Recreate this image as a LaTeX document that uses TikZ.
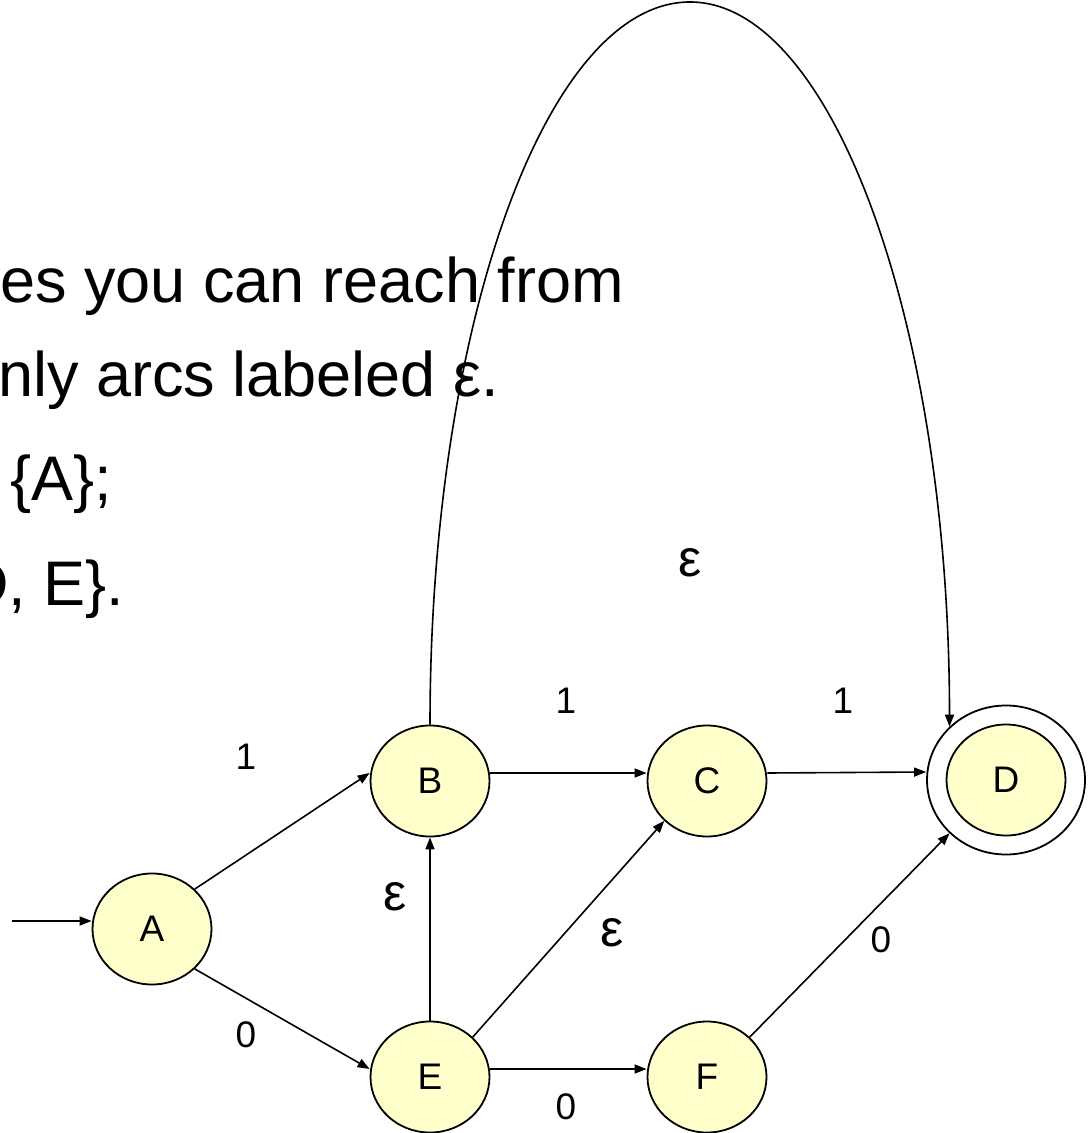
\documentclass[tikz,border=0pt]{standalone}
\usepackage{fontspec}
\setmainfont{Liberation Sans}
\usetikzlibrary{arrows.meta,shapes.geometric}
\definecolor{statefill}{HTML}{FFFFCC}
\tikzset{
    every node/.style={font=\fontsize{18.5}{20}\selectfont},
    nstate/.style={ellipse,draw,line width=0.9pt,fill=statefill,minimum width=59.5pt,minimum height=55.5pt,inner sep=0pt},
    accring/.style={ellipse,draw,line width=0.9pt,fill=white,minimum width=79pt,minimum height=74.5pt,inner sep=0pt},
    lbl/.style={inner sep=1pt},
    epslbl/.style={inner sep=1pt,font=\fontsize{26}{28}\selectfont},
    slidetext/.style={anchor=base west,inner sep=0pt,font=\fontsize{31.5}{36}\selectfont},
    trans/.style={draw,line width=0.8pt,-{Triangle[length=6pt,width=4.5pt]}}
}

\begin{document}
\begin{tikzpicture}[x=0.5pt,y=-0.5pt]
\useasboundingbox (0,0) rectangle (1089,1133);

\node[slidetext] (line1) at (0,303) {es you can reach from};
\node[slidetext] (line2) at (-2,397) {nly arcs labeled ε.};
\node[slidetext] (line3) at (10,500) {\{A\};};
\node[slidetext] (line4) at (-37,605) {D, E\}.};

\node[nstate] (A) at (152,929) {A};
\node[nstate] (B) at (430,781) {B};
\node[nstate] (C) at (707,781) {C};
\node[accring] (Dout) at (1006,780) {};
\node[nstate] (D) at (1006,780) {D};
\node[nstate] (E) at (430,1077) {E};
\node[nstate] (F) at (707,1077) {F};
\coordinate (init) at (12,921);
\coordinate (arctop) at (690,2);

\draw[trans] (init) -- (init -| A.west);
\draw[trans] (A.north east) -- ([yshift=4pt]B.west);
\draw[trans] (A.south east) -- ([yshift=4pt]E.west);
\draw[trans] ([yshift=4pt]B.east) -- ([yshift=4pt]C.west);
\draw[trans] ([yshift=4pt]C.east) -- ([yshift=4pt]Dout.west);
\draw[trans] (E.north) -- (B.south);
\draw[trans] (E.north east) -- (C.south west);
\draw[trans] ([yshift=4pt]E.east) -- ([yshift=4pt]F.west);
\draw[trans] (F.north east) -- (Dout.south west);
\draw[trans] (B.north) .. controls +(0,-399) and +(-144,0) .. (arctop)
    .. controls +(143,0) and +(0,-400) .. (Dout.north west);

\node[lbl] (ab) at (246,757) {1};
\node[lbl] (ae) at (246,1035) {0};
\node[lbl] (bc) at (566,701) {1};
\node[lbl] (cd) at (843,701) {1};
\node[lbl] (ef) at (566,1107) {0};
\node[lbl] (fd) at (881,940) {0};
\node[epslbl] (eb) at (395,897) {ε};
\node[epslbl] (ec) at (612,933) {ε};
\node[epslbl] (bd) at (690,563) {ε};
\end{tikzpicture}
\end{document}
